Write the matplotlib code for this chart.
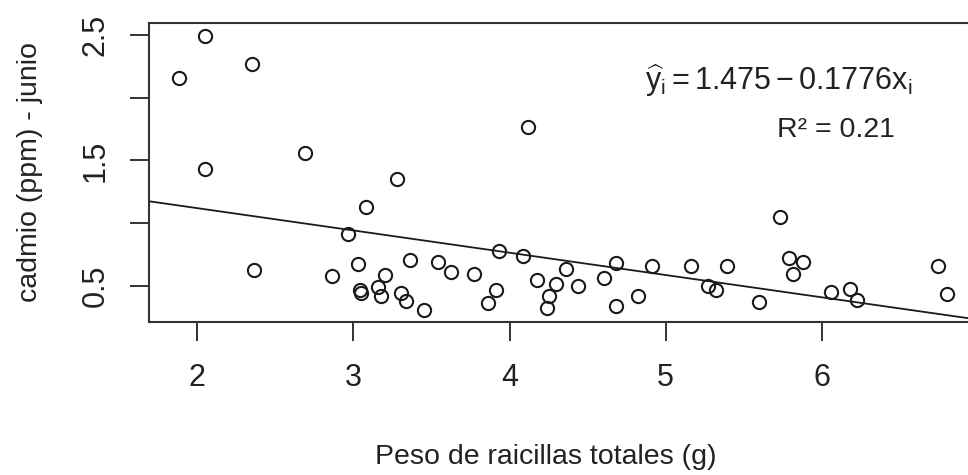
import matplotlib
matplotlib.use('Agg')
import matplotlib.pyplot as plt

# peso de raicillas (g) vs cadmio (ppm), junio
peso = [1.88, 2.05, 2.35, 2.05, 2.365, 2.69, 4.12, 3.28, 3.08, 2.967,
        2.86, 3.03, 3.04, 3.05, 3.154, 3.175, 3.20, 3.305, 3.337, 3.36,
        3.454, 3.54, 3.625, 3.77, 3.93, 3.915, 3.864, 4.085, 4.177, 4.30,
        4.255, 4.242, 4.362, 4.437, 4.605, 4.68, 4.68, 4.82, 4.91, 5.163,
        5.27, 5.32, 5.39, 5.60, 5.733, 5.79, 5.878, 5.818, 6.06, 6.18,
        6.228, 6.747, 6.80]
cadmio = [2.16, 2.49, 2.27, 1.43, 0.63, 1.56, 1.77, 1.35, 1.127, 0.914,
          0.579, 0.677, 0.465, 0.447, 0.49, 0.419, 0.585, 0.443, 0.38, 0.71,
          0.305, 0.69, 0.61, 0.593, 0.776, 0.47, 0.367, 0.742, 0.55, 0.513,
          0.417, 0.323, 0.638, 0.499, 0.563, 0.683, 0.34, 0.42, 0.659, 0.659,
          0.497, 0.465, 0.659, 0.372, 1.05, 0.726, 0.69, 0.593, 0.451, 0.473,
          0.385, 0.659, 0.438]

intercepto = 1.475
pendiente = -0.1776
r2 = 0.21

xticks = [2, 3, 4, 5, 6]
yticks = [0.5, 1.0, 1.5, 2.0, 2.5]
ytick_labels = ['0.5', '', '1.5', '', '2.5']

plt.rcParams['font.family'] = ['Liberation Sans', 'DejaVu Sans']
plt.rcParams['mathtext.fontset'] = 'custom'
plt.rcParams['mathtext.rm'] = 'Liberation Sans'
plt.rcParams['mathtext.it'] = 'Liberation Sans'
plt.rcParams['mathtext.bf'] = 'Liberation Sans:bold'

fig = plt.figure(figsize=(9.68, 4.75), dpi=100)
# the plot region runs past the right edge of the picture, as in the original
ax = fig.add_axes([149/968, 1 - 321.7/475, 832/968, 298.4/475])

ax.plot(peso, cadmio, 'o', mfc='none', mec='#1a1a1a', ms=9.5, mew=1.5)
ax.axline((0, intercepto), slope=pendiente, color='#1a1a1a', lw=1.3)

ax.set_xlim(1.69, 7.02)
ax.set_ylim(0.215, 2.593)

ax.set_xticks(xticks)
ax.set_yticks(yticks)
ax.set_yticklabels(ytick_labels, rotation=90, va='center')
ax.tick_params(axis='both', length=13.5, width=1.4, color='#333333',
               labelsize=22, labelcolor='#222222')
ax.tick_params(axis='x', pad=16)
ax.tick_params(axis='y', pad=14)

for s in ax.spines.values():
    s.set_linewidth(1.5)
    s.set_color('#333333')

ax.set_xlabel('Peso de raicillas totales (g)', fontsize=20.5, color='#222222')
ax.set_ylabel('cadmio (ppm) - junio', fontsize=20.5, color='#222222')
ax.xaxis.set_label_coords(0.477, -0.41)
ax.yaxis.set_label_coords(-0.127, 0.5)

ax.text(0.596, 0.776, r'$\widehat{\mathrm{y}}_\mathrm{i} = 1.475 - 0.1776\mathrm{x}_\mathrm{i}$',
        transform=ax.transAxes, fontsize=22, color='#222222',
        ha='left', va='baseline')
ax.text(0.897, 0.619, 'R² = %.2f' % r2, transform=ax.transAxes,
        fontsize=20.5, color='#222222', ha='right', va='baseline')

fig.savefig('out.png', dpi=100)
